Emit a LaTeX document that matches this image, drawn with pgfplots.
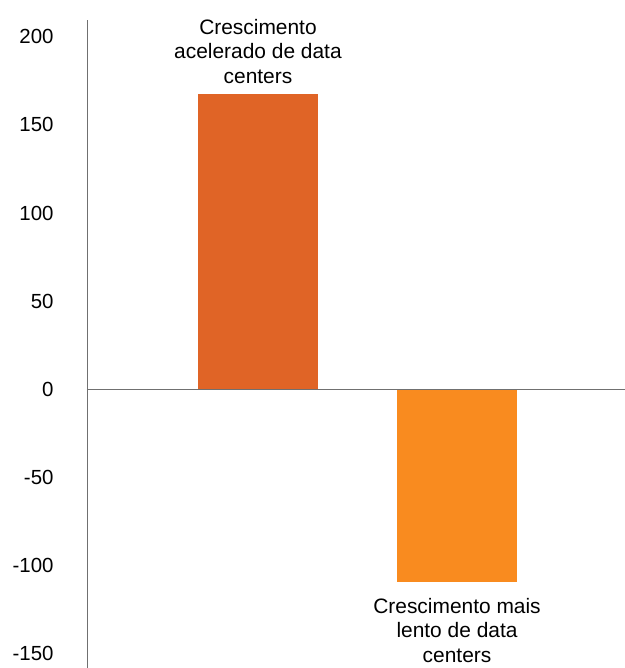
\documentclass[border=0pt]{standalone}
\usepackage{pgfplots}
\pgfplotsset{compat=1.18}
\usepackage{fontspec}
\setmainfont{Liberation Sans}
\definecolor{barA}{HTML}{E06426}
\definecolor{barB}{HTML}{F98B1F}
\definecolor{axgray}{HTML}{707070}
\begin{document}
\begin{tikzpicture}
\begin{axis}[
  name=ax,
  scale only axis,
  width=538bp, height=648bp,
  xmin=-0.859, xmax=1.844,
  ymin=-158.1, ymax=209.5,
  axis y line=left,
  axis x line=none,
  y axis line style={-, axgray, line width=0.9pt},
  ytick={-150,-100,...,200},
  major tick length=0pt,
  yticklabel style={font=\fontsize{20.5}{24}\selectfont, xshift=-30bp},
  /pgf/number format/assume math mode=true,
  ybar, bar width=120bp,
  bar shift=0pt,
  clip=false,
  point meta=explicit symbolic,
  nodes near coords,
  every node near coord/.append style={font=\fontsize{21}{24.5}\selectfont, align=center, text=black},
]
\addplot[fill=barA, draw=none, nodes near coords style={anchor=south, yshift=7bp}]
  coordinates {(0,167.5) [Crescimento\\acelerado de data\\centers]};
\addplot[fill=barB, draw=none, nodes near coords style={anchor=north, yshift=-13bp}]
  coordinates {(1,-109.2) [Crescimento mais\\lento de data\\centers]};
\draw[axgray, line width=0.9pt] (axis cs:-0.859,0) -- (axis cs:1.844,0);
\end{axis}
\pgfresetboundingbox
\path[use as bounding box] ([xshift=-87bp]ax.south west) rectangle ([yshift=20bp]ax.north east);
\end{tikzpicture}
\end{document}
